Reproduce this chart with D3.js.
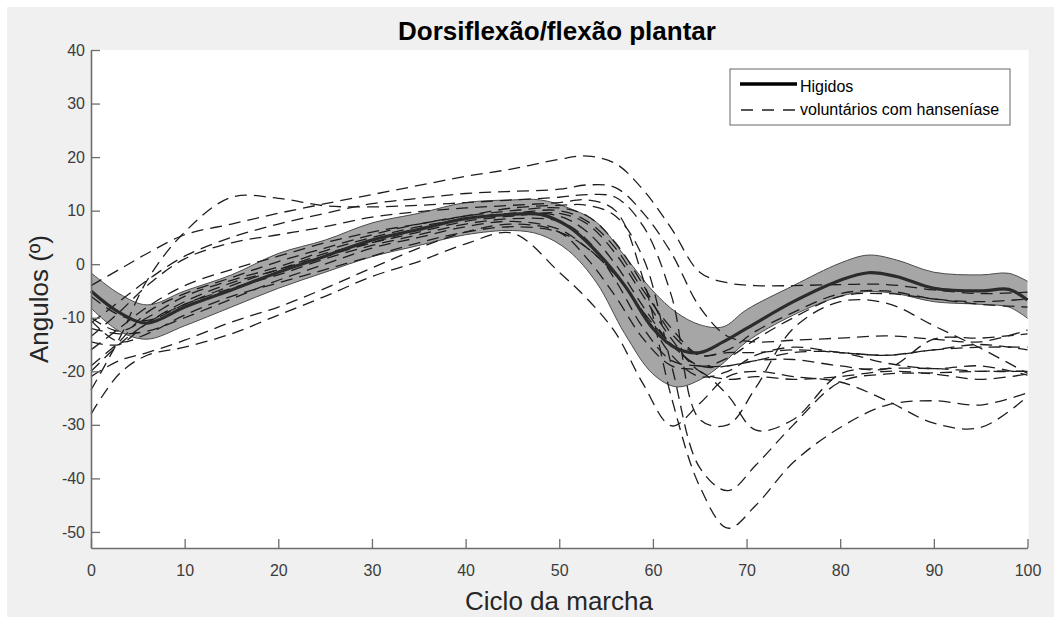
<!DOCTYPE html>
<html><head><meta charset="utf-8">
<script src="https://cdn.jsdelivr.net/npm/d3@7"></script>
<style>body{margin:0;background:#fff}</style>
</head><body>
<svg id="chart" width="1054" height="618"></svg>
<script>
// ---- data ----
const titleText = "Dorsiflexão/flexão plantar";
const xLabelText = "Ciclo da marcha";
const yLabelText = "Angulos (º)";
const legendLabels = ["Higidos", "voluntários com hanseníase"];
const xTicks = [0,10,20,30,40,50,60,70,80,90,100];
const yTicks = [-50,-40,-30,-20,-10,0,10,20,30,40];

// Healthy group (Higidos): mean and band
const hx     = [0,3,6,10,15,20,25,30,35,40,45,48,51,54,57,60,62.5,65,67.5,70,75,80,83,86,90,95,98,100];
const hMean  = [-5,-9,-11,-8,-4.8,-1.5,1.5,4.5,6.5,8.5,9.3,9.3,7,2.3,-4,-12,-15.7,-16.5,-14.5,-12,-7,-3,-1.6,-2.3,-4.5,-5,-4.7,-6.7];
const hUpper = [-1.6,-5.5,-7.6,-5,-2,2,4.5,7.7,9.5,11.5,12,12,10.5,7.8,1.5,-5,-9,-11.3,-11.7,-8.5,-4,0.2,1.7,0.8,-1.5,-2,-1.7,-3.2];
const hLower = [-8.2,-12.5,-14,-11.5,-8,-4.5,-1.5,1.4,3.5,5.5,6.3,5.5,2.5,-3.5,-13,-20.5,-22.9,-21.6,-18.5,-14.5,-9.5,-6,-5.1,-5.5,-7,-7.5,-8,-10.1];

// Volunteers with leprosy: one array per subject, at these cycle points
const px = [0,3,6,10,15,20,25,30,35,40,45,50,53,56,59,62,65,68,71,75,80,85,90,95,100];
const p01 = [-4,-1,2,5.5,7.5,9.5,11.3,13,14.7,16.4,17.8,19.6,20.2,18.8,13.8,6.6,-1.5,-3.5,-4,-4,-3.8,-3.8,-4.8,-5.5,-5.2];
const p02 = [-11,-7,-3,1.5,5,7.5,9.5,11.3,12.3,13.2,13.6,14,14.8,14.3,9.5,2,-8,-13.5,-14.5,-14.2,-13.8,-13.4,-14,-14.5,-12.3];
const p03 = [-23.5,-14,-3,6,12.5,12.3,10.9,10.7,11,11.5,12,12.5,13,12.5,7,-6,-29,-30,-23,-12,-7,-7.3,-11.5,-15.7,-20.4];
const p04 = [-13.5,-9,-4,1,4,5.5,7,8.8,9.8,10.5,11,11.5,12,10,-3,-25,-41.5,-49.3,-45,-37,-30.5,-26.3,-25.5,-26.3,-24];
const p05 = [-16,-12,-8,-4,-1,1.5,4,6,7.5,9,10.5,11,11,9,1,-19,-38,-42.3,-37.5,-30,-22,-20.5,-20.3,-20,-20];
const p06 = [-28,-20.5,-17,-15.5,-13,-9.5,-6,-2.3,0.5,3.8,5.8,-1.5,-6.5,-12.8,-22.5,-30.2,-26,-21,-20,-21,-22,-25.5,-29.7,-30.5,-24.7];
const p07 = [-21,-18,-16.5,-14.2,-10.8,-8,-4.5,-0.7,3,6,7.5,6,1,-6,-14,-19,-20,-24.5,-31,-29,-20.5,-19.5,-19.5,-20,-20];
const p08 = [-12,-13,-12.5,-10,-6.5,-3,0,3,5,7,8,6.5,3,-2,-9,-15,-19,-17.5,-14,-10,-6,-5.5,-6.5,-7.5,-8];
const p09 = [-10,-12.5,-10,-6,-3,-0.5,2.5,5,7,8.5,9.5,9,6,0,-8,-15,-19,-19,-18,-16.5,-16.5,-18.5,-19.5,-19,-20.7];
const p10 = [-20,-15,-11,-7.5,-4.5,-2,1,3.5,5.5,7.5,8.5,8,4.5,-3,-12,-18,-19,-19,-18,-17.8,-19,-19.5,-14,-13.8,-13];
const p11 = [-19,-14.5,-9,-5.5,-2.5,0.5,3,5.5,7.5,9,10,10.5,9,4,-4,-13,-17,-16.5,-16.5,-16,-16.5,-17,-16,-15.5,-15.5];
const p12 = [-14.5,-15,-11,-7,-3.5,-1,2,4,6,8,9,9.5,7.5,2,-6,-14,-20,-21.5,-21,-21.5,-21,-20,-20.5,-21.5,-20.5];
const p13 = [-10.5,-14.5,-13,-9.5,-6,-3.5,-1,1.5,4,6,7,6,3,-2,-9,-17,-21,-20,-17,-15.5,-16.5,-17,-16,-15,-16];
const p14 = [-6,-9.5,-10.5,-7.5,-4,-1,1.5,4,6.5,8.5,9.5,10,8,3,-5,-12,-17,-16,-12.5,-9,-5.5,-5,-6.5,-7,-6.5];
const patients = [p01,p02,p03,p04,p05,p06,p07,p08,p09,p10,p11,p12,p13,p14];

// ---- drawing ----
(function(){
const svg = d3.select("#chart");
const font = "'Liberation Sans', Arial, Helvetica, sans-serif";
const pL = 91, pR = 1027.5, pT = 50, pB = 548;

svg.append("rect").attr("x",0).attr("y",0).attr("width",1054).attr("height",618).attr("fill","#ffffff");
svg.append("rect").attr("x",7).attr("y",7).attr("width",1047).attr("height",610).attr("fill","#f0f0f0");
svg.append("rect").attr("x",pL).attr("y",pT).attr("width",pR-pL+1).attr("height",pB-pT).attr("fill","#ffffff");

const x = d3.scaleLinear().domain([0,100]).range([pL,pR]);
const y = d3.scaleLinear().domain([-53,40]).range([pB,pT]);

const idx = hx.map((d,i)=>i);
const band = d3.area().x(i=>x(hx[i])).y0(i=>y(hLower[i])).y1(i=>y(hUpper[i])).curve(d3.curveCatmullRom);
svg.append("path").attr("d", band(idx)).attr("fill","#a6a6a6").attr("stroke","none");
const edge = arr => d3.line().x(i=>x(hx[i])).y(i=>y(arr[i])).curve(d3.curveCatmullRom)(idx);
svg.append("path").attr("d", edge(hUpper)).attr("fill","none").attr("stroke","#4a4a4a").attr("stroke-width",1);
svg.append("path").attr("d", edge(hLower)).attr("fill","none").attr("stroke","#4a4a4a").attr("stroke-width",1);

const pline = d3.line().x((d,i)=>x(px[i])).y(d=>y(d)).curve(d3.curveCatmullRom);
svg.append("g").selectAll("path").data(patients).join("path")
  .attr("d", d=>pline(d))
  .attr("fill","none").attr("stroke","#1e1e1e").attr("stroke-width",1.3)
  .attr("stroke-dasharray","12,7");

svg.append("path").attr("d", edge(hMean)).attr("fill","none").attr("stroke","#2b2b2b").attr("stroke-width",3.2);

// axes
const axisColor = "#6e6e6e", textColor = "#3c3c3c";
const fmt = d => String(d);
const gy = svg.append("g").attr("transform",`translate(${pL},0)`)
  .call(d3.axisLeft(y).tickValues(yTicks).tickFormat(fmt).tickSizeInner(-9).tickSizeOuter(0).tickPadding(6));
const gx = svg.append("g").attr("transform",`translate(0,${pB})`)
  .call(d3.axisBottom(x).tickValues(xTicks).tickFormat(fmt).tickSizeInner(-9).tickSizeOuter(0).tickPadding(17));
[gx,gy].forEach(g=>{
  g.select(".domain").attr("stroke",axisColor).attr("stroke-width",1.6);
  g.selectAll(".tick line").attr("stroke",axisColor).attr("stroke-width",1.3);
  g.selectAll(".tick text").attr("fill",textColor).attr("font-size",16).attr("font-family",font);
});

// title & labels
svg.append("text").attr("x",557).attr("y",40).attr("text-anchor","middle")
  .attr("font-family",font).attr("font-weight","bold").attr("font-size",26).attr("fill","#000")
  .text(titleText);
svg.append("text").attr("x",559).attr("y",610).attr("text-anchor","middle")
  .attr("font-family",font).attr("font-size",26).attr("fill","#262626").text(xLabelText);
svg.append("text").attr("transform","translate(48,299) rotate(-90)").attr("text-anchor","middle")
  .attr("font-family",font).attr("font-size",26).attr("fill","#262626").text(yLabelText);

// legend
const lg = svg.append("g");
lg.append("rect").attr("x",730).attr("y",69).attr("width",280).attr("height",56)
  .attr("fill","#fff").attr("stroke","#666").attr("stroke-width",1);
lg.append("line").attr("x1",740).attr("x2",797).attr("y1",84).attr("y2",84)
  .attr("stroke","#000").attr("stroke-width",3.5);
lg.append("line").attr("x1",741).attr("x2",796).attr("y1",110).attr("y2",110)
  .attr("stroke","#1e1e1e").attr("stroke-width",1.3).attr("stroke-dasharray","12,9");
lg.selectAll("text.lab").data(legendLabels).join("text").attr("class","lab")
  .attr("x",800).attr("y",(d,i)=>i===0?92:115)
  .attr("font-family",font).attr("font-size",16).attr("fill","#000").text(d=>d);
})();
</script>
</body></html>
